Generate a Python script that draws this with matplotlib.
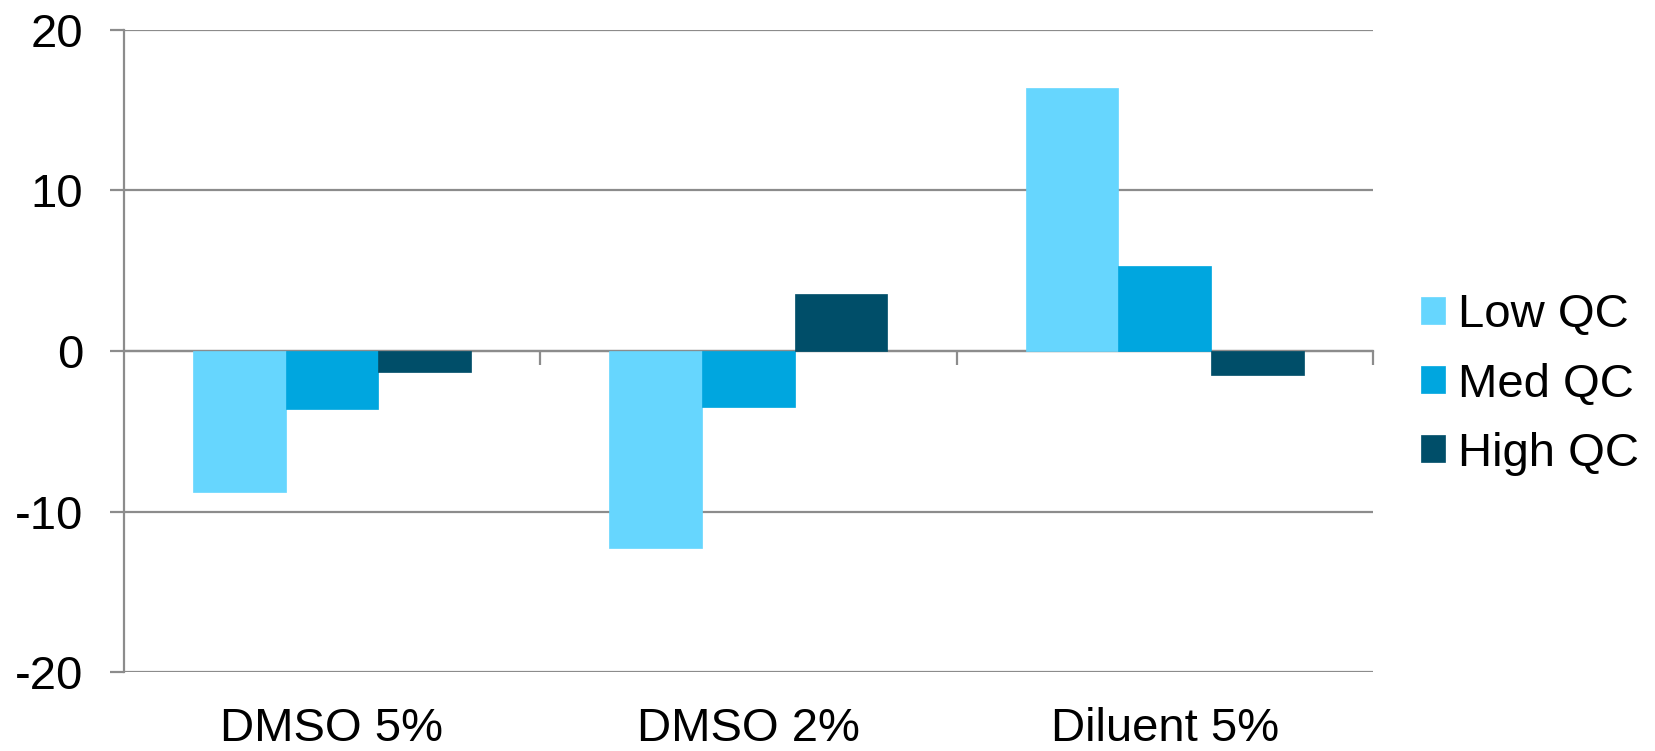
import numpy as np
from matplotlib import pyplot as plt

plt.rcParams['font.family'] = ['Liberation Sans', 'DejaVu Sans']

categories  = ['DMSO 5%', 'DMSO 2%', 'Diluent 5%']
series      = ['Low QC', 'Med QC', 'High QC']
low_qc      = [-8.80, -12.26, 16.35]
med_qc      = [-3.61, -3.51, 5.26]
high_qc     = [-1.30, 3.57, -1.49]
yticks      = [-20, -10, 0, 10, 20]

colors  = ['#66D6FE', '#00A6DF', '#004E69']
gray    = '#8C8C8C'

fig = plt.figure(figsize=(16.56, 7.51), dpi=100)
ax  = fig.add_axes([0.0746, 0.1048, 0.7545, 0.8558])

x     = np.arange(len(categories))
width = 1/4.5
for ii, vals in enumerate([low_qc, med_qc, high_qc]):
    ax.bar(x + (ii-1)*width, vals, width, color=colors[ii], label=series[ii],
           edgecolor=colors[ii], linewidth=0.5, zorder=3)

ax.set_xlim(-0.5, len(categories)-0.5)
ax.set_ylim(-20, 20)
ax.set_yticks(yticks)
ax.set_yticklabels([str(v) for v in yticks])
ax.grid(axis='y', color=gray, linewidth=1.6, zorder=1)
ax.set_axisbelow(True)
for s in ['top', 'right', 'bottom']:
    ax.spines[s].set_visible(False)
ax.spines['left'].set_color(gray)
ax.spines['left'].set_linewidth(1.6)
ax.tick_params(axis='y', direction='out', length=10, width=1.6, color=gray,
               pad=19, labelsize=34)
ax.set_xticks(x)
ax.set_xticklabels(categories)
ax.tick_params(axis='x', length=0, pad=25, labelsize=34)

# category axis crossing at zero, tick marks between groups pointing down
sec = ax.secondary_xaxis(0.5)
sec.set_xticks(np.arange(1, len(categories)+1) - 0.5)
sec.set_xticklabels([])
sec.tick_params(direction='in', length=10, width=1.6, color=gray)
for s in sec.spines.values():
    s.set_color(gray)
    s.set_linewidth(1.6)

fig.legend(loc='center left', bbox_to_anchor=(0.858, 0.488), frameon=False,
           fontsize=34, handlelength=0.51, handleheight=0.51, handletextpad=0.28,
           labelspacing=0.53, borderpad=0, borderaxespad=0)

fig.savefig('out.png', dpi=100)
